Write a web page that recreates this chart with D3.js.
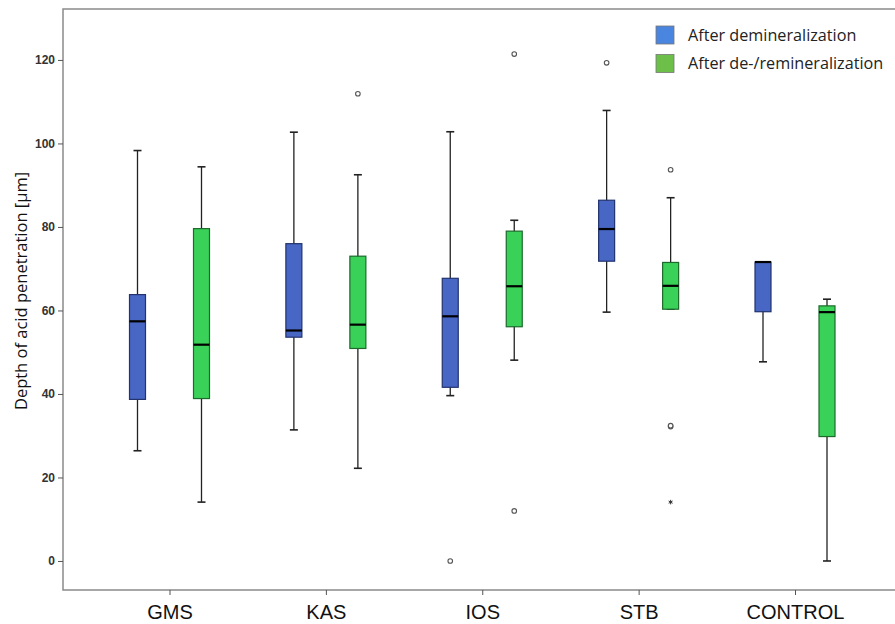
<!DOCTYPE html>
<html>
<head>
<meta charset="utf-8">
<script src="https://cdn.jsdelivr.net/npm/d3@7"></script>
<style>
  body { margin: 0; background: #fff; }
  .tick-y text { font-family: 'Liberation Sans', Arial, sans-serif; font-weight: bold; font-size: 12px; fill: #333; }
  .tick-x text { font-family: 'Liberation Sans', Arial, sans-serif; font-size: 20px; fill: #111; }
</style>
</head>
<body>
<div id="vis"></div>
<script>
const categories = ['GMS', 'KAS', 'IOS', 'STB', 'CONTROL'];
const seriesNames = ['After demineralization', 'After de-/remineralization'];
const yTicks = [0, 20, 40, 60, 80, 100, 120];

// After demineralization
const deminMin = [26.4, 31.4, 39.6, 59.6, 47.7];
const deminQ1 = [38.7, 53.6, 41.6, 71.8, 59.7];
const deminMedian = [57.4, 55.2, 58.6, 79.5, 71.6];
const deminQ3 = [63.8, 76.0, 67.7, 86.4, 71.6];
const deminMax = [98.3, 102.7, 102.8, 107.9, 71.6];
const deminOutliers = [[], [], [0], [119.3], []];
const deminExtremes = [[], [], [], [], []];

// After de-/remineralization
const reminMin = [14.1, 22.2, 48.1, 60.3, 0];
const reminQ1 = [38.9, 50.9, 56.1, 60.3, 29.8];
const reminMedian = [51.8, 56.6, 65.8, 65.9, 59.6];
const reminQ3 = [79.6, 73.0, 79.0, 71.5, 61.1];
const reminMax = [94.4, 92.5, 81.6, 87.0, 62.7];
const reminOutliers = [[], [111.9], [121.4, 12.0], [93.7, 32.2, 32.4], []];
const reminExtremes = [[], [], [], [14.1], []];

const width = 895, height = 624;
const frame = {left: 63, top: 9, right: 902, bottom: 590};

const boxFill = ['#4866c4', '#3ad158'];
const boxStroke = ['#22336e', '#1c6a2c'];
const legendFill = ['#4a86e0', '#6cc04a'];

const svg = d3.select('#vis')
    .append('svg')
    .attr('width', width)
    .attr('height', height);

const x = d3.scalePoint()
    .domain(categories)
    .range([169.5, 795]);

const offset = d3.scaleOrdinal()
    .domain(seriesNames)
    .range([-32, 32]);

const y = d3.scaleLinear()
    .domain([-6.95, 132.2])
    .range([frame.bottom, frame.top]);

// frame
svg.append('rect')
    .attr('x', frame.left)
    .attr('y', frame.top)
    .attr('width', frame.right - frame.left)
    .attr('height', frame.bottom - frame.top)
    .attr('fill', 'none')
    .attr('stroke', '#8a8a8a')
    .attr('stroke-width', 1.5);

// y axis
const yAxis = d3.axisLeft(y).tickValues(yTicks).tickSize(5).tickPadding(3);
svg.append('g')
    .attr('class', 'tick-y')
    .attr('transform', `translate(${frame.left},0)`)
    .call(yAxis)
    .call(g => g.select('.domain').remove())
    .call(g => g.selectAll('line').attr('stroke', '#555'));

// x axis
const xAxis = d3.axisBottom(x).tickSize(5).tickPadding(10);
svg.append('g')
    .attr('class', 'tick-x')
    .attr('transform', `translate(0,${frame.bottom})`)
    .call(xAxis)
    .call(g => g.select('.domain').remove())
    .call(g => g.selectAll('line').attr('stroke', '#555'));

svg.append('text')
    .attr('transform', 'rotate(-90)')
    .attr('x', -291)
    .attr('y', 27)
    .style('text-anchor', 'middle')
    .style('font-family', "'Open Sans', sans-serif")
    .style('font-size', '16.5px')
    .style('fill', '#111')
    .text('Depth of acid penetration [\u00b5m]');

const series = [
    {name: seriesNames[0], min: deminMin, q1: deminQ1, med: deminMedian, q3: deminQ3, max: deminMax, out: deminOutliers, ext: deminExtremes},
    {name: seriesNames[1], min: reminMin, q1: reminQ1, med: reminMedian, q3: reminQ3, max: reminMax, out: reminOutliers, ext: reminExtremes}
];

const boxW = 16, capW = 8;

series.forEach((s, si) => {
    const g = svg.append('g');
    const cx = c => x(c) + offset(s.name);
    const rows = categories.map((c, i) => ({c, i}));

    // whiskers
    g.selectAll('.whisker')
        .data(rows)
        .enter()
        .append('line')
        .attr('x1', d => cx(d.c)).attr('x2', d => cx(d.c))
        .attr('y1', d => y(s.min[d.i])).attr('y2', d => y(s.max[d.i]))
        .attr('stroke', '#222').attr('stroke-width', 1.3);

    ['min', 'max'].forEach(k => {
        g.selectAll('.cap-' + k)
            .data(rows)
            .enter()
            .append('line')
            .attr('x1', d => cx(d.c) - capW / 2).attr('x2', d => cx(d.c) + capW / 2)
            .attr('y1', d => y(s[k][d.i])).attr('y2', d => y(s[k][d.i]))
            .attr('stroke', '#222').attr('stroke-width', 1.6);
    });

    g.selectAll('.box')
        .data(rows)
        .enter()
        .append('rect')
        .attr('x', d => cx(d.c) - boxW / 2)
        .attr('y', d => y(s.q3[d.i]))
        .attr('width', boxW)
        .attr('height', d => y(s.q1[d.i]) - y(s.q3[d.i]))
        .attr('fill', boxFill[si])
        .attr('stroke', boxStroke[si])
        .attr('stroke-width', 1.2);

    g.selectAll('.median')
        .data(rows)
        .enter()
        .append('line')
        .attr('x1', d => cx(d.c) - boxW / 2).attr('x2', d => cx(d.c) + boxW / 2)
        .attr('y1', d => y(s.med[d.i])).attr('y2', d => y(s.med[d.i]))
        .attr('stroke', '#000').attr('stroke-width', 2.2);

    const outs = rows.flatMap(d => s.out[d.i].map(v => ({c: d.c, v})));
    g.selectAll('.outlier')
        .data(outs)
        .enter()
        .append('circle')
        .attr('cx', d => cx(d.c))
        .attr('cy', d => y(d.v))
        .attr('r', 2.3)
        .attr('fill', '#fff')
        .attr('stroke', '#555')
        .attr('stroke-width', 1.1);

    const exts = rows.flatMap(d => s.ext[d.i].map(v => ({c: d.c, v})));
    g.selectAll('.extreme')
        .data(exts)
        .enter()
        .append('path')
        .attr('d', d3.symbol(d3.symbolAsterisk, 14))
        .attr('transform', d => `translate(${cx(d.c)},${y(d.v)})`)
        .attr('stroke', '#333')
        .attr('stroke-width', 1);
});

// legend
const legend = svg.append('g')
    .attr('transform', 'translate(656,26)');

legend.selectAll('rect')
    .data(seriesNames)
    .enter()
    .append('rect')
    .attr('x', 0)
    .attr('y', (d, i) => i * 28.5)
    .attr('width', 18)
    .attr('height', 18)
    .attr('fill', (d, i) => legendFill[i])
    .attr('stroke', '#777')
    .attr('stroke-width', 0.8);

legend.selectAll('text')
    .data(seriesNames)
    .enter()
    .append('text')
    .attr('x', 32)
    .attr('y', (d, i) => i * 28.5 + 9)
    .attr('dy', '0.35em')
    .style('font-family', "'Open Sans', sans-serif")
    .style('font-size', '16.2px')
    .style('fill', '#222')
    .text(d => d);
</script>
</body>
</html>
